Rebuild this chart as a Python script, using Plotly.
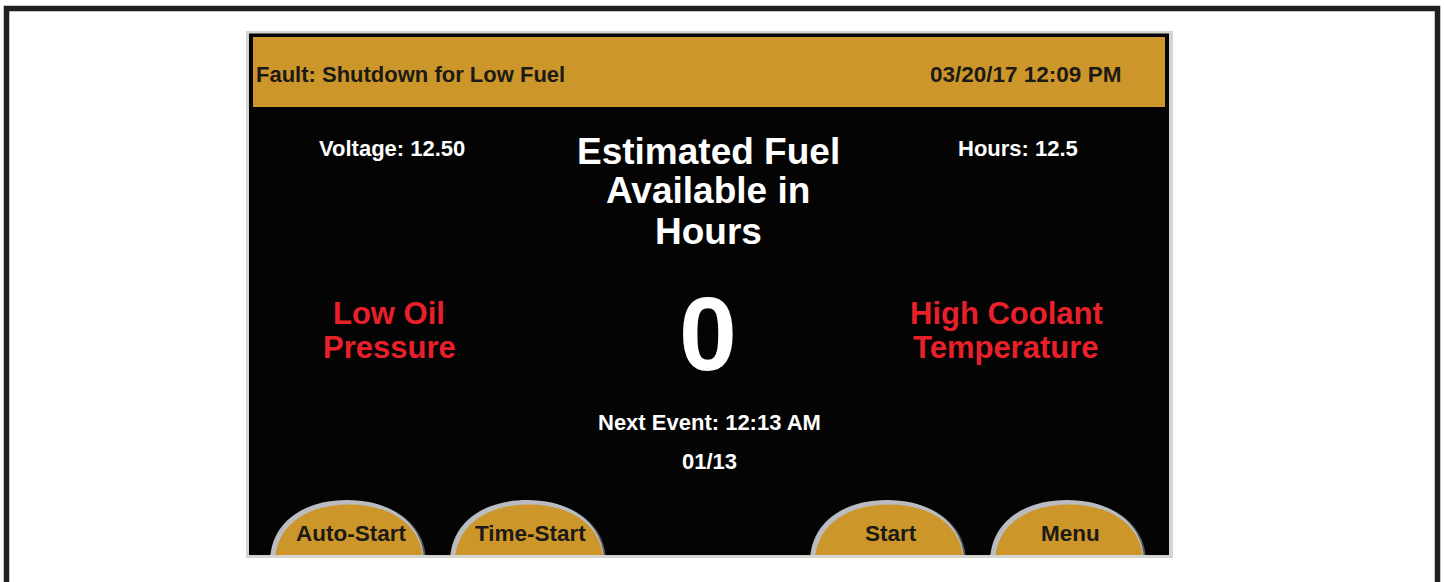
import plotly.graph_objects as go

W, H = 1444, 582

# ---- content ----
fault_text = "Fault: Shutdown for Low Fuel"
timestamp = "03/20/17 12:09 PM"
voltage_label = "Voltage: 12.50"
hours_label = "Hours: 12.5"
title_lines = ["Estimated Fuel", "Available in", "Hours"]
fuel_hours = "0"
left_alarm = ["Low Oil", "Pressure"]
right_alarm = ["High Coolant", "Temperature"]
next_event = ["Next Event: 12:13 AM", "01/13"]
buttons = ["Auto-Start", "Time-Start", "Start", "Menu"]

# ---- layout geometry (pixels) ----
button_x0 = [270, 450, 810, 990]
button_x1 = [425, 605, 965, 1145]
BTN_TOP, BTN_BOT = 500, 556

GOLD = "#CC962B"
RED = "#E8202A"
DARK = "#1c1a14"
FONT = "Liberation Sans, Arial, sans-serif"

shapes = []
# outer frame
shapes.append(dict(type="rect", x0=6.5, y0=8.5, x1=1437.5, y1=640,
                   line=dict(color="#231f20", width=5.5), fillcolor="white", layer="below"))
# panel
shapes.append(dict(type="rect", x0=246, y0=31, x1=1173, y1=558,
                   line=dict(width=0), fillcolor="#d6d4ce", layer="below"))
shapes.append(dict(type="rect", x0=249, y0=33.5, x1=1169, y1=555,
                   line=dict(width=0), fillcolor="#040404", layer="below"))
shapes.append(dict(type="rect", x0=253, y0=37, x1=1165, y1=107,
                   line=dict(width=0), fillcolor=GOLD, layer="below"))


def dome(x0, x1, yt, yb, k=0.6):
    cx = (x0 + x1) / 2
    rx = (x1 - x0) / 2
    h = yb - yt
    return (f"M {x0},{yb} C {x0},{yb - k*h} {cx - k*rx},{yt} {cx},{yt} "
            f"C {cx + k*rx},{yt} {x1},{yb - k*h} {x1},{yb} Z")


for x0, x1 in zip(button_x0, button_x1):
    shapes.append(dict(type="path", path=dome(x0 + 2, x1 + 1, BTN_TOP + 1, BTN_BOT + 6),
                       fillcolor="#55585c", line=dict(width=0), layer="below"))
    shapes.append(dict(type="path", path=dome(x0, x1 - 1, BTN_TOP, BTN_BOT + 6),
                       fillcolor="#b9bcc0", line=dict(width=0), layer="below"))
    shapes.append(dict(type="path", path=dome(x0 + 5, x1 - 2, BTN_TOP + 4.5, BTN_BOT + 6),
                       fillcolor=GOLD, line=dict(width=0), layer="below"))
# re-cover panel bottom edge below buttons
shapes.append(dict(type="rect", x0=246, y0=555, x1=1173, y1=558,
                   line=dict(width=0), fillcolor="#d6d4ce", layer="below"))
shapes.append(dict(type="rect", x0=240, y0=558, x1=1180, y1=570,
                   line=dict(width=0), fillcolor="white", layer="below"))

ann = []


def txt(text, x, y, size, color, xanchor="center", bold=True):
    ann.append(dict(text=f"<b>{text}</b>" if bold else text, x=x, y=y,
                    xref="x", yref="y", xanchor=xanchor, yanchor="middle",
                    showarrow=False, font=dict(family=FONT, size=size, color=color)))


txt(fault_text, 254, 74, 22, DARK, xanchor="left")
txt(timestamp, 1123, 74, 22.5, DARK, xanchor="right")
txt(voltage_label, 392, 148.5, 22, "white")
txt(hours_label, 1018, 148.5, 22, "white")
for line, y in zip(title_lines, [151.5, 190.5, 231.5]):
    txt(line, 708, y, 37, "white")
txt(fuel_hours, 708, 334, 104, "white")
for line, y in zip(left_alarm, [313, 347]):
    txt(line, 389, y, 31, RED)
for line, y in zip(right_alarm, [313, 347]):
    txt(line, 1006, y, 31, RED)
txt(next_event[0], 709, 422, 22, "white")
txt(next_event[1], 709, 461, 22, "white")
for label, x0, x1 in zip(buttons, button_x0, button_x1):
    txt(label, (x0 + x1) / 2 + 3, 533, 22.5, DARK)

fig = go.Figure()
fig.add_trace(go.Scatter(x=[0, W], y=[0, H], mode="markers",
                         marker=dict(opacity=0), hoverinfo="skip", showlegend=False))
fig.update_layout(
    width=W, height=H, autosize=False,
    margin=dict(l=0, r=0, t=0, b=0),
    paper_bgcolor="white", plot_bgcolor="white",
    xaxis=dict(range=[0, W], visible=False, fixedrange=True),
    yaxis=dict(range=[H, 0], visible=False, fixedrange=True),
    shapes=shapes, annotations=ann, showlegend=False,
)
fig.write_html("out.html", config=dict(displayModeBar=False),
               post_script="document.body.style.margin='0';document.body.style.overflow='hidden';")
